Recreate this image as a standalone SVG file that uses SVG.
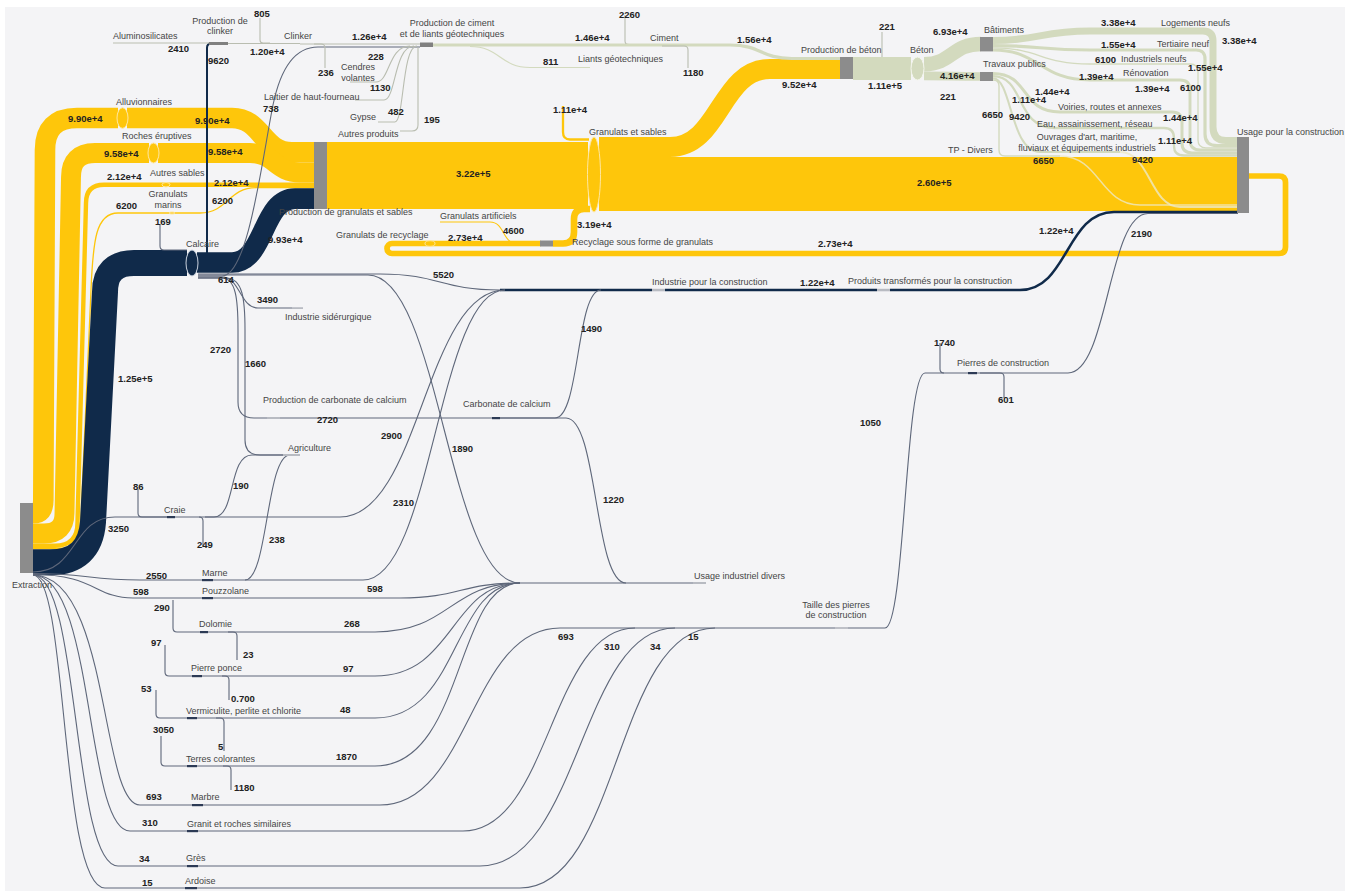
<svg xmlns="http://www.w3.org/2000/svg" width="1349" height="891" viewBox="0 0 1349 891">
<style>
.y{fill:none;stroke:#FEC60B}
.n{fill:none;stroke:#102A4A}
.s{fill:none;stroke:#D3DABE}
.sp{fill:none;stroke:#EDE8C6;opacity:.8}
.t{fill:none;stroke:#5E677A;stroke-width:1.1}
.tl{fill:none;stroke:#B9BDB0;stroke-width:1.1}
.gn{fill:#8C8C8C}
.ln{fill:#B8BBC2}
.dn{fill:#2C3A55}
.ey{fill:#FEC60B;stroke:#FFE7A0;stroke-width:1}
text{font-family:"Liberation Sans",Arial,sans-serif}
.l{font-size:9px;fill:#454545}
.v{font-size:9.5px;font-weight:bold;fill:#222}
.c{text-anchor:middle}
</style>
<rect x="0" y="0" width="1349" height="891" fill="#FFFFFF"/>
<rect x="5" y="7" width="1340" height="884" fill="#F4F4F6"/>

<g id="links">
  <!-- yellow -->
  <path class="y" stroke-width="20.6" d="M33,513.3 C40,513.3 43.3,510 43.3,500 L45,150 Q45,118 77,118 H118"/>
  <path class="y" stroke-width="20.6" d="M127,118 H232 C262,118 262,152.3 292,152.3 H315"/>
  <path class="y" stroke-width="19.9" d="M33,533.5 H44 Q64.5,533.5 64.5,513 L71,177 Q71,153 95,153 H149"/>
  <path class="y" stroke-width="19.9" d="M158,153 H250 C275,153 275,172.5 300,172.5 H315"/>
  <path class="y" stroke-width="4.4" d="M33,545.7 H55 Q77.5,545.7 77.5,523 L86,203 Q86,184.7 104,184.7 H315"/>
  <path class="y" stroke-width="1.3" d="M33,548.5 H58 Q80.5,548.5 80.5,527 L91,290 C93,240 96,213 118,213 H200 C228,213 228,187.7 256,187.7 H315"/>
  <path class="y" stroke-width="67" d="M327,175.5 H588"/>
  <path class="y" stroke-width="2.3" d="M563,106 V132 Q563,139.5 570,139.5 H589"/>
  <path class="y" stroke-width="20" d="M599,147 H670 C720,147 720,69 770,69 H841"/>
  <path class="y" stroke-width="54" d="M599,184 H1238"/>
  <path class="y" stroke-width="5.7" d="M1249,176 H1279 Q1285.5,176 1285.5,182.5 V247 Q1285.5,253.5 1279,253.5 H392 A5,5 0 0 1 392,243.5 H541"/>
  <path class="y" stroke-width="1.1" d="M440,222 H490 C505,222 502,243.5 517,243.5"/>
  <path class="y" stroke-width="6.6" d="M553,243.5 H563 Q574,243.5 574,232 V219 Q574,209 584,209 H590"/>
  <!-- navy -->
  <path class="n" stroke-width="26" d="M33,562.2 H50 Q90,562.2 93,522 L105,292 Q105,263 134,263 H187"/>
  <path class="n" stroke-width="20.6" d="M197,262.5 H232 C265,262.5 262,198.6 295,198.6 H315"/>
  <path class="n" stroke-width="2" d="M199,257 H203 Q207,257 207,252 V48 Q207,43.5 211,43.5"/>
  <path class="n" stroke-width="2.5" d="M500,290 H652 M665,290 H877 M890,290 H1020 C1068,290 1066,212 1114,212 H1238"/>
  <!-- thin lines -->
  <path class="t" d="M160,224 V246 Q160,250 164,250 H187"/>
  <path class="t" d="M138,489 V513 Q138,517 142,517 H168"/>
  <path class="t" d="M33,572 C78,572 72,517 115,517 H168"/>
  <path class="t" d="M175,517 H340 C420,517 425,290 505,290"/>
  <path class="t" d="M199,517 Q203,517 203,521 V546"/>
  <path class="t" d="M205,517 H214 C236,517 228,455 252,455 H283"/>
  <path class="t" d="M33,573.5 C85,573.5 90,580 140,580 H203"/>
  <path class="t" d="M213,580 H363 C432,580 438,290 505,290"/>
  <path class="t" d="M245,580 C268,580 266,455 290,455"/>
  <path class="t" d="M33,574.5 C95,574.5 95,598 133,598 H203"/>
  <path class="t" d="M213,598 H400 C460,598 460,583 520,583"/>
  <path class="t" d="M173,600 V628 Q173,632 177,632 H200"/>
  <path class="t" d="M208,632 H375 C450,632 450,583 520,583"/>
  <path class="t" d="M228,632 H233 Q237,632 237,636 V660"/>
  <path class="t" d="M165,645 V672 Q165,676 169,676 H192"/>
  <path class="t" d="M202,676 H375 C455,676 450,583 520,583"/>
  <path class="t" d="M222,676 H225 Q229,676 229,680 V700"/>
  <path class="t" d="M156,690 V714 Q156,718 160,718 H187"/>
  <path class="t" d="M197,718 H375 C460,718 452,583 520,583"/>
  <path class="t" d="M216,718 H220 Q224,718 224,722 V751"/>
  <path class="t" d="M161,736 V762 Q161,766 165,766 H187"/>
  <path class="t" d="M197,766 H375 C465,766 455,583 520,583"/>
  <path class="t" d="M223,766 H227 Q231,766 231,770 V790"/>
  <path class="t" d="M33,575 C110,575 100,805 140,805 H192"/>
  <path class="t" d="M203,805 H380 C470,805 470,628 560,628"/>
  <path class="t" d="M33,575 C95,575 85,831 130,831 H187"/>
  <path class="t" d="M198,831 H463 C550,831 550,628 635,628"/>
  <path class="t" d="M33,575 C80,575 72,866 118,866 H187"/>
  <path class="t" d="M198,866 H480 C580,866 580,628 675,628"/>
  <path class="t" d="M33,575 C68,575 60,888 105,888 H185"/>
  <path class="t" d="M197,888 H520 C620,888 615,628 715,628"/>
  <path class="t" stroke-width="1.6" d="M560,628 H835"/>
  <path class="t" d="M848,628 H885 C905,628 905,373 925,373 H968"/>
  <path class="t" d="M940,343 V369 Q940,373 944,373"/>
  <path class="t" d="M977,373 H1068 C1108,373 1108,213.5 1148,213.5 H1238"/>
  <path class="t" d="M980,373 H1000 Q1004,373 1004,377 V398"/>
  <path class="t" stroke-width="1.8" d="M520,583 H693"/>
  <path class="t" d="M198,274 H380 C440,274 440,290 500,290"/>
  <path class="t" d="M198,275 H368 C440,275 448,583 520,583"/>
  <path class="t" d="M198,277 H222 C240,277 240,308 258,308 H292"/>
  <path class="t" d="M198,278 H222 C236,278 238,300 238,330 V402 Q238,418 254,418 H268"/>
  <path class="t" d="M198,278 H226 C243,278 245,300 245,330 V440 Q245,455 260,455 H283"/>
  <path class="t" d="M280,418 H492"/>
  <path class="t" d="M500,418 H555 C580,418 576,290 601,290"/>
  <path class="t" d="M500,418 H566 C598,418 594,583 626,583"/>
  <path class="t" d="M198,276 H222 C248,276 262,160 273,105 Q285,47 318,47 H420"/>
  <!-- top light lines -->
  <path class="tl" d="M113,43 H209"/>
  <path class="tl" stroke="#C9CCBD" stroke-width="2.5" d="M228,43.5 H300"/>
  <path class="tl" stroke="#A4A7A0" stroke-width="2.6" d="M300,44 H420"/>
  <path class="tl" d="M260,18 V40 Q260,43 263,43 H270"/>
  <path class="tl" d="M314,44 H321 Q325,44 325,48 V68"/>
  <path class="tl" d="M350,82 H376 C390,82 388,46 410,46"/>
  <path class="tl" d="M355,100 H384 C396,100 394,46 414,46"/>
  <path class="tl" d="M378,122 H395 C404,122 402,46 417,46"/>
  <path class="tl" d="M400,131 H412 Q418,131 418,125 V47"/>
  <path class="s" stroke-width="3" d="M433,45 H626"/>
  <path class="s" stroke-width="1.2" d="M470,46.5 C500,46.5 500,67.5 530,67.5 H590"/>
  <path class="tl" d="M625,15 V41 Q625,44.5 629,44.5"/>
  <path class="s" stroke-width="3.2" d="M626,45 H730 C762,45 760,58.5 792,58.5 H841"/>
  <path class="tl" d="M662,46 H684 Q688,46 688,50 V68"/>
  <path class="s" stroke-width="23" d="M853,68.5 H911"/>
  <path class="tl" d="M882,57 V32"/>
  <path class="s" stroke-width="14.4" d="M924,64.2 C952,64.2 952,44 981,44"/>
  <path class="s" stroke-width="8.7" d="M924,75.9 C952,75.9 952,76.5 981,76.5"/>
  <path class="s" stroke-width="7" d="M993,40.5 C1040,40.5 1040,31 1090,31 H1203 Q1213,31 1213,41 V127 Q1213,140.5 1226,140.5 H1238"/>
  <path class="s" stroke-width="3.2" d="M993,45.6 C1040,45.6 1040,50 1090,50 H1196 Q1205,50 1205,59 V134 Q1205,145.6 1217,145.6 H1238"/>
  <path class="s" stroke-width="1.3" d="M993,47.9 C1040,47.9 1040,64 1090,64 H1190 Q1198,64 1198,72 V140 Q1198,147.9 1206,147.9 H1238"/>
  <path class="s" stroke-width="2.9" d="M993,50 C1040,50 1040,80 1090,80 H1180 Q1190,80 1190,90 V140 Q1190,150 1200,150 H1238"/>
  <path class="s" stroke-width="3" d="M993,73.5 C1030,73.5 1020,112 1060,112 H1172 Q1182,112 1182,122 V143 Q1182,152.9 1192,152.9 H1238"/>
  <path class="s" stroke-width="2.3" d="M993,76.2 C1025,76.2 1015,128 1055,128 H1164 Q1174,128 1174,138 V146 Q1174,155.5 1184,155.5 H1238"/>
  <path class="s" stroke-width="2" d="M993,78.3 C1012,78.3 1010,152 1040,152 H1120"/>
  <path class="sp" stroke-width="2" d="M1120,152 C1150,152 1150,207 1180,207 H1238"/>
  <path class="s" stroke-width="1.4" d="M993,80 Q999,80 999,86 V150 Q999,156 1005,156 H1060"/>
  <path class="sp" stroke-width="1.4" d="M1060,156 C1100,156 1100,205 1140,205 H1238"/>
</g>

<g id="values">
  <text class="v" x="68" y="122">9.90e+4</text>
  <text class="v" x="195" y="124">9.90e+4</text>
  <text class="v" x="104" y="157">9.58e+4</text>
  <text class="v" x="208" y="155">9.58e+4</text>
  <text class="v" x="107" y="180">2.12e+4</text>
  <text class="v" x="214" y="186">2.12e+4</text>
  <text class="v" x="116" y="209">6200</text>
  <text class="v" x="212" y="204">6200</text>
  <text class="v" x="155" y="225">169</text>
  <text class="v" x="268" y="243">9.93e+4</text>
  <text class="v" x="118" y="382">1.25e+5</text>
  <text class="v" x="168" y="52">2410</text>
  <text class="v" x="254" y="17">805</text>
  <text class="v" x="208" y="64">9620</text>
  <text class="v" x="250" y="55">1.20e+4</text>
  <text class="v" x="352" y="40">1.26e+4</text>
  <text class="v" x="318" y="76">236</text>
  <text class="v" x="368" y="60">228</text>
  <text class="v" x="370" y="91">1130</text>
  <text class="v" x="388" y="115">482</text>
  <text class="v" x="424" y="123">195</text>
  <text class="v" x="263" y="112">738</text>
  <text class="v" x="619" y="18">2260</text>
  <text class="v" x="575" y="41">1.46e+4</text>
  <text class="v" x="543" y="65">811</text>
  <text class="v" x="683" y="76">1180</text>
  <text class="v" x="737" y="43">1.56e+4</text>
  <text class="v" x="879" y="30">221</text>
  <text class="v" x="782" y="88">9.52e+4</text>
  <text class="v" x="868" y="89">1.11e+5</text>
  <text class="v" x="933" y="35">6.93e+4</text>
  <text class="v" x="940" y="79">4.16e+4</text>
  <text class="v" x="940" y="100">221</text>
  <text class="v" x="1101" y="26">3.38e+4</text>
  <text class="v" x="1101" y="48">1.55e+4</text>
  <text class="v" x="1222" y="44">3.38e+4</text>
  <text class="v" x="1095" y="63">6100</text>
  <text class="v" x="1188" y="71">1.55e+4</text>
  <text class="v" x="1079" y="80">1.39e+4</text>
  <text class="v" x="1135" y="92">1.39e+4</text>
  <text class="v" x="1180" y="91">6100</text>
  <text class="v" x="1035" y="95">1.44e+4</text>
  <text class="v" x="1012" y="103">1.11e+4</text>
  <text class="v" x="982" y="118">6650</text>
  <text class="v" x="1009" y="120">9420</text>
  <text class="v" x="1163" y="121">1.44e+4</text>
  <text class="v" x="1158" y="144">1.11e+4</text>
  <text class="v" x="1033" y="164">6650</text>
  <text class="v" x="1132" y="163">9420</text>
  <text class="v" x="917" y="186">2.60e+5</text>
  <text class="v" x="456" y="177">3.22e+5</text>
  <text class="v" x="553" y="113">1.11e+4</text>
  <text class="v" x="448" y="241">2.73e+4</text>
  <text class="v" x="503" y="234">4600</text>
  <text class="v" x="577" y="228">3.19e+4</text>
  <text class="v" x="818" y="247">2.73e+4</text>
  <text class="v" x="1039" y="234">1.22e+4</text>
  <text class="v" x="1131" y="237">2190</text>
  <text class="v" x="218" y="283">614</text>
  <text class="v" x="433" y="278">5520</text>
  <text class="v" x="257" y="303">3490</text>
  <text class="v" x="800" y="286">1.22e+4</text>
  <text class="v" x="581" y="332">1490</text>
  <text class="v" x="934" y="346">1740</text>
  <text class="v" x="998" y="403">601</text>
  <text class="v" x="210" y="353">2720</text>
  <text class="v" x="245" y="367">1660</text>
  <text class="v" x="317" y="423">2720</text>
  <text class="v" x="860" y="426">1050</text>
  <text class="v" x="381" y="439">2900</text>
  <text class="v" x="452" y="452">1890</text>
  <text class="v" x="133" y="490">86</text>
  <text class="v" x="233" y="489">190</text>
  <text class="v" x="603" y="503">1220</text>
  <text class="v" x="393" y="506">2310</text>
  <text class="v" x="108" y="532">3250</text>
  <text class="v" x="269" y="543">238</text>
  <text class="v" x="197" y="548">249</text>
  <text class="v" x="146" y="579">2550</text>
  <text class="v" x="133" y="595">598</text>
  <text class="v" x="367" y="592">598</text>
  <text class="v" x="154" y="611">290</text>
  <text class="v" x="344" y="627">268</text>
  <text class="v" x="558" y="640">693</text>
  <text class="v" x="604" y="650">310</text>
  <text class="v" x="650" y="650">34</text>
  <text class="v" x="688" y="640">15</text>
  <text class="v" x="151" y="646">97</text>
  <text class="v" x="243" y="658">23</text>
  <text class="v" x="343" y="672">97</text>
  <text class="v" x="141" y="692">53</text>
  <text class="v" x="231" y="702">0.700</text>
  <text class="v" x="340" y="713">48</text>
  <text class="v" x="153" y="733">3050</text>
  <text class="v" x="218" y="750">5</text>
  <text class="v" x="336" y="760">1870</text>
  <text class="v" x="234" y="791">1180</text>
  <text class="v" x="146" y="800">693</text>
  <text class="v" x="142" y="826">310</text>
  <text class="v" x="139" y="862">34</text>
  <text class="v" x="142" y="886">15</text>
</g>

<g id="node-extraction"><rect class="gn" x="20" y="503" width="13" height="70"/><text class="l" x="12" y="588">Extraction</text></g>
<g id="node-alluvionnaires"><ellipse class="ey" cx="122.5" cy="118" rx="5.5" ry="10.3"/><text class="l" x="116" y="105">Alluvionnaires</text></g>
<g id="node-roches"><ellipse class="ey" cx="153.5" cy="153" rx="5.5" ry="10"/><text class="l" x="122" y="139">Roches éruptives</text></g>
<g id="node-autres-sables"><ellipse class="ey" cx="166" cy="184.7" rx="4" ry="2.2"/><text class="l" x="150" y="176">Autres sables</text></g>
<g id="node-granulats-marins"><ellipse class="ey" cx="172" cy="213" rx="3" ry="1"/><text class="l c" x="168" y="197">Granulats</text><text class="l c" x="168" y="208">marins</text></g>
<g id="node-calcaire"><ellipse cx="192" cy="263" rx="6" ry="13" fill="#102A4A" stroke="#C9D1DD" stroke-width="1"/><text class="l" x="186" y="247">Calcaire</text></g>
<g id="node-craie"><rect class="dn" x="167" y="516" width="8" height="2.2"/><text class="l" x="164" y="513">Craie</text></g>
<g id="node-marne"><rect class="dn" x="202" y="579" width="11" height="2.2"/><text class="l" x="202" y="576">Marne</text></g>
<g id="node-pouzzolane"><rect class="dn" x="202" y="597" width="11" height="2.2"/><text class="l" x="202" y="594">Pouzzolane</text></g>
<g id="node-dolomie"><rect class="dn" x="200" y="631" width="8" height="2.2"/><text class="l" x="199" y="627">Dolomie</text></g>
<g id="node-pierre-ponce"><rect class="dn" x="192" y="675" width="10" height="2.2"/><text class="l" x="191" y="671">Pierre ponce</text></g>
<g id="node-vermiculite"><rect class="dn" x="187" y="717" width="10" height="2.2"/><text class="l" x="186" y="714">Vermiculite, perlite et chlorite</text></g>
<g id="node-terres"><rect class="dn" x="187" y="765" width="10" height="2.2"/><text class="l" x="186" y="762">Terres colorantes</text></g>
<g id="node-marbre"><rect class="dn" x="192" y="804" width="11" height="2.2"/><text class="l" x="191" y="800">Marbre</text></g>
<g id="node-granit"><rect class="dn" x="187" y="830" width="11" height="2.2"/><text class="l" x="187" y="827">Granit et roches similaires</text></g>
<g id="node-gres"><rect class="dn" x="187" y="865" width="11" height="2.2"/><text class="l" x="186" y="861">Grès</text></g>
<g id="node-ardoise"><rect class="dn" x="185" y="887" width="12" height="2.2"/><text class="l" x="185" y="884">Ardoise</text></g>
<g id="node-prod-granulats"><rect class="gn" x="314" y="142" width="13" height="67"/><text class="l" x="279" y="215">Production de granulats et sables</text></g>
<g id="node-granulats-sables"><ellipse class="ey" cx="594" cy="174.5" rx="6.5" ry="37.5"/><text class="l" x="589" y="135">Granulats et sables</text></g>
<g id="node-granulats-artificiels"><text class="l" x="440" y="219">Granulats artificiels</text></g>
<g id="node-granulats-recyclage"><ellipse class="ey" cx="430" cy="243.5" rx="5" ry="2.8"/><text class="l" x="336" y="238">Granulats de recyclage</text></g>
<g id="node-recyclage"><rect class="gn" x="540" y="240.5" width="13" height="6"/><text class="l" x="572" y="245">Recyclage sous forme de granulats</text></g>
<g id="node-aluminosilicates"><text class="l" x="113" y="39">Aluminosilicates</text></g>
<g id="node-prod-clinker"><rect fill="#808080" x="209" y="42" width="19" height="3"/><text class="l c" x="220" y="24">Production de</text><text class="l c" x="220" y="34">clinker</text></g>
<g id="node-clinker"><text class="l" x="284" y="39">Clinker</text></g>
<g id="node-cendres"><text class="l c" x="358" y="70">Cendres</text><text class="l c" x="358" y="81">volantes</text></g>
<g id="node-laitier"><text class="l" x="264" y="100">Laitier de haut-fourneau</text></g>
<g id="node-gypse"><text class="l" x="350" y="120">Gypse</text></g>
<g id="node-autres-produits"><text class="l" x="338" y="137">Autres produits</text></g>
<g id="node-prod-ciment"><rect fill="#808080" x="420" y="42.5" width="13" height="4.5"/><text class="l c" x="452" y="26">Production de ciment</text><text class="l c" x="452" y="37">et de liants géotechniques</text></g>
<g id="node-ciment"><text class="l" x="650" y="41">Ciment</text></g>
<g id="node-liants"><text class="l" x="578" y="62">Liants géotechniques</text></g>
<g id="node-prod-beton"><rect class="gn" x="840" y="57" width="13" height="22"/><text class="l" x="801" y="53">Production de béton</text></g>
<g id="node-beton"><ellipse cx="917.5" cy="68.5" rx="6.5" ry="11.5" fill="#D3DABE" stroke="#F4F6EC" stroke-width="1"/><text class="l" x="910" y="53">Béton</text></g>
<g id="node-batiments"><rect class="gn" x="980" y="37" width="13" height="14.4"/><text class="l" x="984" y="33">Bâtiments</text></g>
<g id="node-travaux-publics"><rect class="gn" x="980" y="72" width="13" height="9"/><text class="l" x="983" y="67">Travaux publics</text></g>
<g id="node-logements"><text class="l" x="1161" y="26">Logements neufs</text></g>
<g id="node-tertiaire"><text class="l" x="1157" y="47">Tertiaire neuf</text></g>
<g id="node-industriels"><text class="l" x="1121" y="62">Industriels neufs</text></g>
<g id="node-renovation"><text class="l" x="1123" y="76">Rénovation</text></g>
<g id="node-voiries"><text class="l" x="1058" y="110">Voiries, routes et annexes</text></g>
<g id="node-eau"><text class="l" x="1037" y="127">Eau, assainissement, réseau</text></g>
<g id="node-ouvrages"><text class="l c" x="1087" y="140">Ouvrages d'art, maritime,</text><text class="l c" x="1087" y="151">fluviaux et équipements industriels</text></g>
<g id="node-tp-divers"><text class="l" x="948" y="153">TP - Divers</text></g>
<g id="node-usage-construction"><rect class="gn" x="1237" y="137" width="12" height="76"/><text class="l" x="1237" y="135">Usage pour la construction</text></g>
<g id="node-siderurgie"><rect class="ln" x="292" y="307.2" width="11" height="1.8"/><text class="l" x="285" y="320">Industrie sidérurgique</text></g>
<g id="node-prod-carbonate"><rect class="ln" x="267" y="417" width="13" height="2"/><text class="l" x="263" y="403">Production de carbonate de calcium</text></g>
<g id="node-carbonate"><rect class="dn" x="492" y="417" width="8" height="2.2"/><text class="l" x="463" y="407">Carbonate de calcium</text></g>
<g id="node-agriculture"><rect class="ln" x="283" y="454" width="17" height="2"/><text class="l" x="288" y="451">Agriculture</text></g>
<g id="node-industrie-construction"><rect class="ln" x="652" y="288.8" width="13" height="2.5"/><text class="l" x="652" y="285">Industrie pour la construction</text></g>
<g id="node-produits-transformes"><rect class="ln" x="877" y="288.8" width="13" height="2.5"/><text class="l" x="848" y="284">Produits transformés pour la construction</text></g>
<g id="node-usage-industriel"><rect class="ln" x="693" y="582" width="13" height="2"/><text class="l" x="694" y="579">Usage industriel divers</text></g>
<g id="node-taille"><rect class="ln" x="835" y="627.1" width="13" height="1.8"/><text class="l c" x="836" y="608">Taille des pierres</text><text class="l c" x="836" y="618">de construction</text></g>
<g id="node-pierres-construction"><rect class="dn" x="968" y="372" width="9" height="2.2"/><text class="l" x="957" y="366">Pierres de construction</text></g>
</svg>
